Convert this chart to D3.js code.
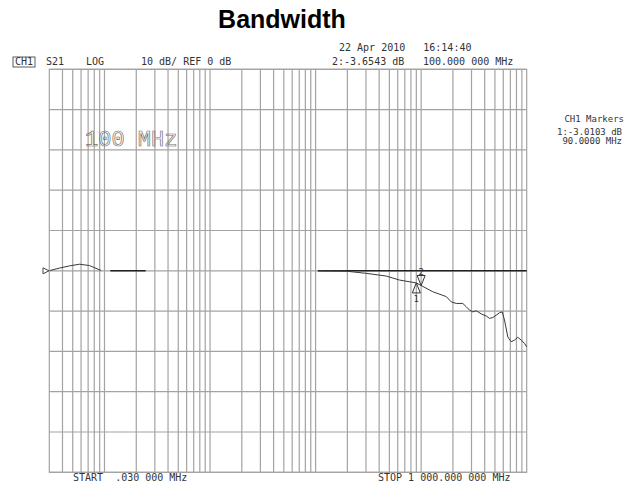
<!DOCTYPE html>
<html>
<head>
<meta charset="utf-8">
<script src="https://cdn.jsdelivr.net/npm/d3@7"></script>
<style>
body{margin:0;background:#fff}
.small{font-family:"DejaVu Sans Mono",monospace;font-size:10px;fill:#333}
.tiny{font-family:"DejaVu Sans Mono",monospace;font-size:9px;fill:#333}
</style>
</head>
<body>
<svg></svg>
<script>
// values (MHz, dB)
var startFreq=0.03
var stopFreq=1000
var dbTicks=[-50,-40,-30,-20,-10,0,10,20,30,40,50]

// low end bump
var lowFreq=[0.0303,0.0376,0.0468,0.0581,0.0721,0.0931]
var lowDb=[0.06,0.68,1.23,1.63,1.30,0.06]

// trace from 10 MHz up
var highFreq=[10.5,19.5,30.2,46.7,62.4,90,100,129,172.8,192.7,215,248,267,287,309,332,371,413,444,477,514,553,586,616,662,713,766,823,887,953,1000]
var highDb=[0,-0.1,-0.63,-1.3,-2.3,-3.01,-3.65,-5.2,-6.4,-7.7,-8.1,-8.1,-8.9,-9.75,-10.2,-9.9,-10.7,-11.2,-11.8,-11.6,-11.0,-10.4,-10.2,-12.2,-16.4,-17.6,-17.2,-16.5,-17.2,-18.0,-18.9]

// dark flat pieces on the reference line
var flatStart=[0.1138,10.5]
var flatStop=[0.2456,1000]

var markerNum=["1","2"]
var markerFreq=[90,100]
var markerDb=[-3.0103,-3.6543]

var makeTranslateString = function(x,y)
{
    return "translate("+x+","+y+")";
}

var drawGrid = function(target,graph,xScale,yScale)
{
    var vLines=[]
    for(var dec=-2;dec<=3;dec++)
    {
        for(var m=1;m<=9;m++)
        {
            var f=m*Math.pow(10,dec)
            if(f>startFreq && f<stopFreq){vLines.push(f)}
        }
    }
    var grid=target.append("g").classed("grid",true)
    grid.selectAll("line.v")
        .data(vLines)
        .enter()
        .append("line")
        .attr("x1",function(f){return xScale(f)})
        .attr("x2",function(f){return xScale(f)})
        .attr("y1",0)
        .attr("y2",graph.height)
        .attr("stroke","#a3a3a3")
        .attr("stroke-width",1.2)
    grid.selectAll("line.h")
        .data(dbTicks)
        .enter()
        .append("line")
        .attr("x1",0)
        .attr("x2",graph.width)
        .attr("y1",function(d){return yScale(d)})
        .attr("y2",function(d){return yScale(d)})
        .attr("stroke","#a3a3a3")
        .attr("stroke-width",1.2)
    grid.append("rect")
        .attr("width",graph.width)
        .attr("height",graph.height)
        .attr("fill","none")
        .attr("stroke","#a3a3a3")
        .attr("stroke-width",1.2)
}

var drawTrace = function(target,xScale,yScale)
{
    var line=d3.line()
        .x(function(p){return xScale(p[0])})
        .y(function(p){return yScale(p[1])})
    var flats=flatStart.map(function(s,i){return [[s,0],[flatStop[i],0]]})
    target.selectAll("path.flat")
        .data(flats)
        .enter()
        .append("path")
        .attr("d",line)
        .attr("fill","none")
        .attr("stroke","#222")
        .attr("stroke-width",1.6)
    var low=lowFreq.map(function(f,i){return [f,lowDb[i]]})
    var high=highFreq.map(function(f,i){return [f,highDb[i]]})
    target.selectAll("path.trace")
        .data([low,high])
        .enter()
        .append("path")
        .attr("d",line)
        .attr("fill","none")
        .attr("stroke","#3a3a3a")
        .attr("stroke-width",1)
}

var drawMarkers = function(target,xScale,yScale)
{
    var marks=target.selectAll("g.marker")
        .data(markerFreq)
        .enter()
        .append("g")
        .attr("transform",function(f,i){
            return makeTranslateString(xScale(f),yScale(markerDb[i]))
        })
    // marker 1 below the trace, marker 2 above it
    marks.append("path")
        .attr("d",function(f,i){
            return i==0 ? "M0,0L-4,10L4,10Z" : "M0,0L-4,-10L4,-10Z"
        })
        .attr("fill","none")
        .attr("stroke","#333")
        .attr("stroke-width",1)
    marks.append("text")
        .text(function(f,i){return markerNum[i]})
        .classed("tiny",true)
        .attr("text-anchor","middle")
        .attr("y",function(f,i){return i==0 ? 19 : -11})
}

var drawLabels = function(margins,graph,yScale)
{
    var svg=d3.select("svg")
    svg.append("text")
        .text("Bandwidth")
        .attr("x",282)
        .attr("y",27.5)
        .attr("text-anchor","middle")
        .style("font-family","Liberation Sans, Arial, sans-serif")
        .style("font-weight","bold")
        .style("font-size","25px")
        .attr("fill","#000")

    svg.append("text").classed("small",true).attr("x",339).attr("y",51)
        .attr("xml:space","preserve").text("22 Apr 2010   16:14:40")
    svg.append("rect").attr("x",13).attr("y",57).attr("width",22).attr("height",10)
        .attr("fill","none").attr("stroke","#333").attr("stroke-width",0.8)
    svg.append("text").classed("small",true).attr("x",15).attr("y",65).text("CH1")
    svg.append("text").classed("small",true).attr("x",46).attr("y",65).text("S21")
    svg.append("text").classed("small",true).attr("x",86).attr("y",65).text("LOG")
    svg.append("text").classed("small",true).attr("x",141).attr("y",65)
        .attr("xml:space","preserve").text("10 dB/ REF 0 dB")
    svg.append("text").classed("small",true).attr("x",332).attr("y",65)
        .text("2:-3.6543 dB")
    svg.append("text").classed("small",true).attr("x",423).attr("y",65)
        .text("100.000 000 MHz")

    svg.append("text").classed("tiny",true).attr("x",624).attr("y",122)
        .attr("text-anchor","end").text("CH1 Markers")
    svg.append("text").classed("tiny",true).attr("x",622).attr("y",135)
        .attr("text-anchor","end").text("1:-3.0103 dB")
    svg.append("text").classed("tiny",true).attr("x",622).attr("y",144)
        .attr("text-anchor","end").text("90.0000 MHz")

    svg.append("text").classed("small",true).attr("x",73).attr("y",481)
        .attr("xml:space","preserve").text("START  .030 000 MHz")
    svg.append("text").classed("small",true).attr("x",378).attr("y",481)
        .text("STOP 1 000.000 000 MHz")

    svg.append("text")
        .text("100 MHz")
        .attr("x",85)
        .attr("y",146)
        .style("font-family","Liberation Mono, monospace")
        .style("font-size","22px")
        .attr("fill","none")
        .attr("stroke","#707070")
        .attr("stroke-width",0.7)

    // reference position arrow
    var ry=margins.top+yScale(0)
    svg.append("path")
        .attr("d","M43,"+(ry-3)+"L49,"+ry+"L43,"+(ry+3)+"Z")
        .attr("fill","none")
        .attr("stroke","#444")
        .attr("stroke-width",1)
}

var initGraph = function()
{
    var screen={width:638,height:483}
    var margins={left:49.3,right:111.3,top:69.3,bottom:10.7}
    var graph={
        width:screen.width-margins.left-margins.right,
        height:screen.height-margins.top-margins.bottom
    }
    d3.select("svg")
        .attr("width",screen.width)
        .attr("height",screen.height)
    var target=d3.select("svg")
        .append("g")
        .attr("id","graph")
        .attr("transform",makeTranslateString(margins.left,margins.top))
    var xScale=d3.scaleLog()
        .domain([startFreq,stopFreq])
        .range([0,graph.width])
    var yScale=d3.scaleLinear()
        .domain([-50,50])
        .range([graph.height,0])
    drawGrid(target,graph,xScale,yScale)
    drawTrace(target,xScale,yScale)
    drawMarkers(target,xScale,yScale)
    drawLabels(margins,graph,yScale)
}
initGraph()
</script>
</body>
</html>
